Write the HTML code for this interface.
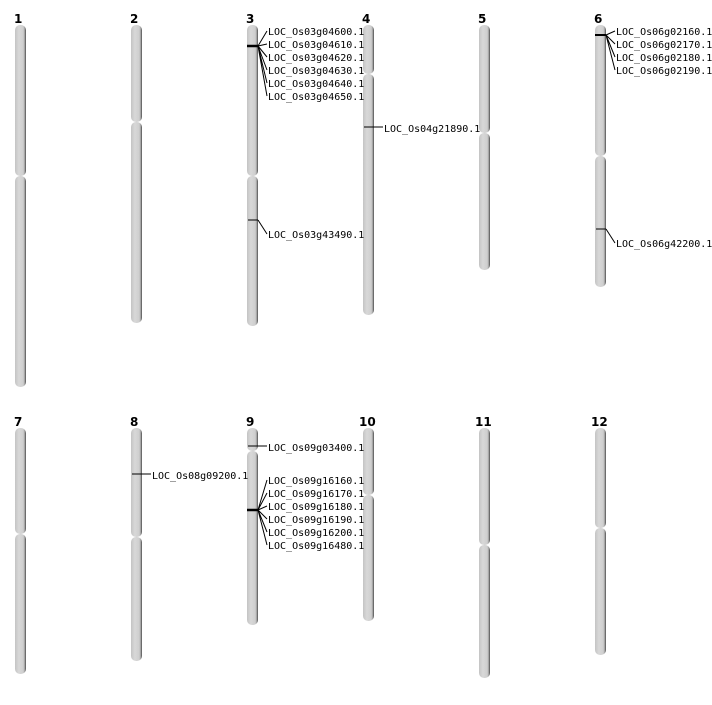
<!DOCTYPE html>
<html><head><style>body{margin:0;background:#fff}</style></head><body>
<svg width="712" height="700" xmlns="http://www.w3.org/2000/svg" font-family="'DejaVu Sans Mono','Liberation Mono',monospace">
<defs><linearGradient id="g" x1="0" x2="1" y1="0" y2="0">
<stop offset="0" stop-color="#c4c4c4"/><stop offset="0.35" stop-color="#d8d8d8"/><stop offset="0.75" stop-color="#cfcfcf"/><stop offset="0.9" stop-color="#9a9a9a"/><stop offset="1" stop-color="#444"/></linearGradient></defs>
<g fill="url(#g)">
<rect x="15" y="25" width="11" height="151" rx="5"/><rect x="15" y="176" width="11" height="211" rx="5"/>
<rect x="131" y="25" width="11" height="97" rx="5"/><rect x="131" y="122" width="11" height="201" rx="5"/>
<rect x="247" y="25" width="11" height="151" rx="5"/><rect x="247" y="176" width="11" height="150" rx="5"/>
<rect x="363" y="25" width="11" height="49" rx="5"/><rect x="363" y="74" width="11" height="241" rx="5"/>
<rect x="479" y="25" width="11" height="108" rx="5"/><rect x="479" y="133" width="11" height="137" rx="5"/>
<rect x="595" y="25" width="11" height="131" rx="5"/><rect x="595" y="156" width="11" height="131" rx="5"/>
<rect x="15" y="428" width="11" height="106" rx="5"/><rect x="15" y="534" width="11" height="140" rx="5"/>
<rect x="131" y="428" width="11" height="109" rx="5"/><rect x="131" y="537" width="11" height="124" rx="5"/>
<rect x="247" y="428" width="11" height="23" rx="5"/><rect x="247" y="451" width="11" height="174" rx="5"/>
<rect x="363" y="428" width="11" height="67" rx="5"/><rect x="363" y="495" width="11" height="126" rx="5"/>
<rect x="479" y="428" width="11" height="117" rx="5"/><rect x="479" y="545" width="11" height="133" rx="5"/>
<rect x="595" y="428" width="11" height="100" rx="5"/><rect x="595" y="528" width="11" height="127" rx="5"/>
</g>
<g font-family="'DejaVu Sans','Liberation Sans',sans-serif" font-weight="bold" font-size="12" fill="#000">
<text x="14" y="23">1</text><text x="130" y="23">2</text><text x="246" y="23">3</text><text x="362" y="23">4</text><text x="478" y="23">5</text><text x="594" y="23">6</text>
<text x="14" y="426">7</text><text x="130" y="426">8</text><text x="246" y="426">9</text><text x="359" y="426">10</text><text x="475" y="426">11</text><text x="591" y="426">12</text>
</g>
<g stroke="#000" stroke-width="1" fill="none">
<line x1="247" y1="46" x2="258" y2="46" stroke-width="2.5"/>
<path d="M258 46L267 31M258 46L267 44M258 46L267 57M258 46L267 70M258 46L267 83M258 46L267 96"/>
<line x1="248" y1="220" x2="258" y2="220"/><path d="M258 220L267 234"/>
<line x1="364" y1="127" x2="383" y2="127"/>
<line x1="595" y1="35" x2="606" y2="35" stroke-width="2"/>
<path d="M606 35L615 31M606 35L615 44M606 35L615 57M606 35L615 70"/>
<line x1="596" y1="229" x2="606" y2="229"/><path d="M606 229L615 243"/>
<line x1="132" y1="474" x2="151" y2="474"/>
<line x1="248" y1="446" x2="267" y2="446"/>
<line x1="247" y1="510" x2="258" y2="510" stroke-width="2.5"/>
<path d="M258 510L267 480M258 510L267 493M258 510L267 506M258 510L267 519M258 510L267 532M258 510L267 545"/>
</g>
<g font-size="10" fill="#000" dominant-baseline="middle">
<text x="268" y="32">LOC_Os03g04600.1</text><text x="268" y="45">LOC_Os03g04610.1</text><text x="268" y="58">LOC_Os03g04620.1</text><text x="268" y="71">LOC_Os03g04630.1</text><text x="268" y="84">LOC_Os03g04640.1</text><text x="268" y="97">LOC_Os03g04650.1</text>
<text x="268" y="235">LOC_Os03g43490.1</text>
<text x="384" y="129">LOC_Os04g21890.1</text>
<text x="616" y="32">LOC_Os06g02160.1</text><text x="616" y="45">LOC_Os06g02170.1</text><text x="616" y="58">LOC_Os06g02180.1</text><text x="616" y="71">LOC_Os06g02190.1</text>
<text x="616" y="244">LOC_Os06g42200.1</text>
<text x="152" y="476">LOC_Os08g09200.1</text>
<text x="268" y="448">LOC_Os09g03400.1</text>
<text x="268" y="481">LOC_Os09g16160.1</text><text x="268" y="494">LOC_Os09g16170.1</text><text x="268" y="507">LOC_Os09g16180.1</text><text x="268" y="520">LOC_Os09g16190.1</text><text x="268" y="533">LOC_Os09g16200.1</text><text x="268" y="546">LOC_Os09g16480.1</text>
</g>
</svg>
</body></html>
